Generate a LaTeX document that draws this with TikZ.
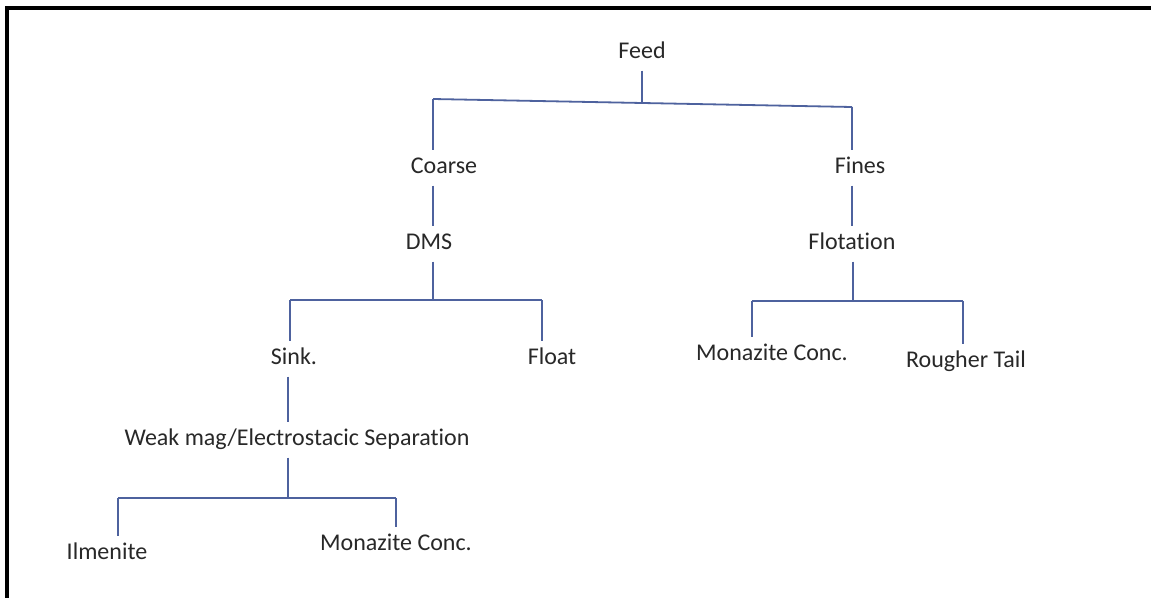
\documentclass[tikz,border=0pt]{standalone}
\usepackage{fontspec}
\setmainfont{Carlito}[Ligatures={NoCommon,NoRare}]
\definecolor{lineblue}{RGB}{78,98,158}
\definecolor{txt}{RGB}{40,40,40}
\begin{document}
\begin{tikzpicture}[x=1pt,y=-1pt,
  lbl/.style={font=\fontsize{24}{28}\selectfont, text=txt, inner xsep=0pt, inner ysep=0pt,
              text height=15pt, text depth=5pt, minimum height=35pt},
  conn/.style={draw=lineblue, line width=1.3pt},
  bar/.style={draw=lineblue, line width=1.8pt},
  frame/.style={draw=black, line width=4pt}]
\useasboundingbox (0,0) rectangle (1151,597);
\fill[white] (0,0) rectangle (1151,597);
\draw[frame] (7,599) -- (7,8) -- (1153,8);

% labels
\node[lbl] (feed)  at (642,53)  {Feed};
\node[lbl] (coarse) at (444,168) {Coarse};
\node[lbl] (fines) at (860,168) {Fines};
\node[lbl] (dms)   at (429,244) {DMS};
\node[lbl] (flot)  at (852,244) {Flotation};
\node[lbl] (sink)  at (294,359) {Sink.};
\node[lbl] (float) at (552,359) {Float};
\node[lbl] (mon2)  at (772,355) {Monazite Conc.};
\node[lbl] (rough) at (966,362) {Rougher Tail};
\node[lbl] (weak)  at (297,440) {Weak mag/Electrostacic Separation};
\node[lbl] (ilm)   at (107,554) {Ilmenite};
\node[lbl] (mon1)  at (396,545) {Monazite Conc.};

% junction coordinates
\coordinate (aL) at (433,99);
\coordinate (aM) at (642,103);
\coordinate (aR) at (852,107);
\coordinate (bL) at (290,300);
\coordinate (bM) at (433,300);
\coordinate (bR) at (542,300);
\coordinate (cL) at (752,301);
\coordinate (cM) at (853,301);
\coordinate (cR) at (963,301);
\coordinate (dL) at (118,498);
\coordinate (dM) at (288,498);
\coordinate (dR) at (396,498);

% top split
\draw[bar] (aL) -- (aR);
\draw[conn] (feed.south -| aM) -- (aM);
\draw[conn] (aL) -- (aL |- coarse.north);
\draw[conn] (aR) -- (aR |- fines.north);

% coarse branch
\draw[conn] (coarse.south -| aL) -- (aL |- dms.north);
\draw[conn] (dms.south -| bM) -- (bM);
\draw[bar] (bL) -- (bR);
\draw[conn] (bL) -- (bL |- sink.north);
\draw[conn] (bR) -- (bR |- float.north);
\draw[conn] (sink.south -| dM) -- (dM |- weak.north);
\draw[conn] (weak.south -| dM) -- (dM);
\draw[bar] (dL) -- (dR);
\draw[conn] (dL) -- (dL |- ilm.north);
\draw[conn] (dR) -- (dR |- mon1.north);

% fines branch
\draw[conn] (fines.south -| aR) -- (aR |- flot.north);
\draw[conn] (flot.south -| cM) -- (cM);
\draw[bar] (cL) -- (cR);
\draw[conn] (cL) -- (cL |- mon2.north);
\draw[conn] (cR) -- (cR |- rough.north);
\end{tikzpicture}
\end{document}
